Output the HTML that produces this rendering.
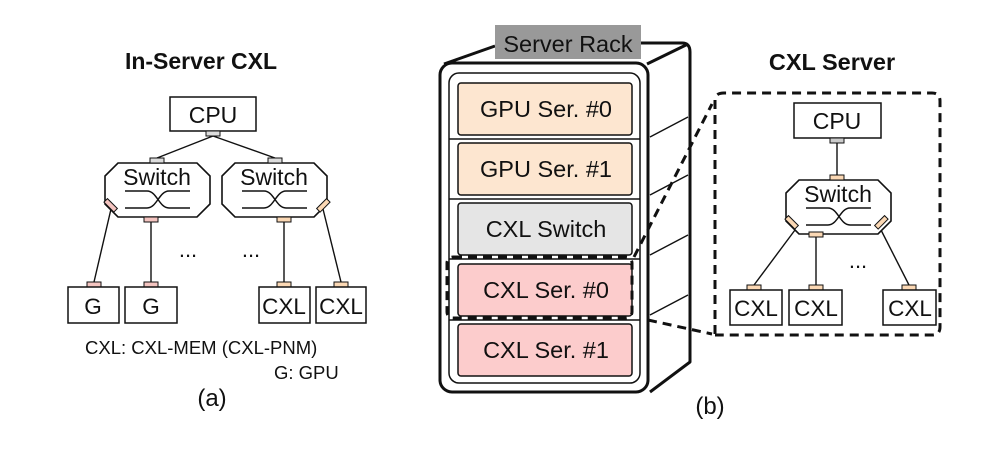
<!DOCTYPE html>
<html><head><meta charset="utf-8"><style>
html,body{margin:0;padding:0;background:#fff;width:997px;height:453px;overflow:hidden}
text{font-family:"Liberation Sans",Arial,sans-serif;fill:#111}
</style></head><body>
<svg width="997" height="453" viewBox="0 0 997 453" xmlns="http://www.w3.org/2000/svg">
<defs>
<g id="sw">
<polygon points="13,0 92,0 105,13 105,41 92,54 13,54 0,41 0,13" fill="#fff" stroke="#111" stroke-width="1.6"/>
<text x="52" y="22" font-size="23" text-anchor="middle">Switch</text>
<path d="M20 28 H42 C52 28 54 45 64 45 H85 M20 45 H42 C52 45 54 28 64 28 H85" fill="none" stroke="#111" stroke-width="1.5"/>
</g>
</defs>

<!-- (a) In-Server CXL -->
<text x="201" y="69" font-size="23" font-weight="bold" text-anchor="middle">In-Server CXL</text>
<rect x="170" y="97" width="86" height="34" fill="#fff" stroke="#111" stroke-width="1.5"/>
<text x="213" y="123" font-size="23" text-anchor="middle">CPU</text>
<g stroke="#111" stroke-width="1.4">
<line x1="213" y1="136" x2="157" y2="158"/>
<line x1="213" y1="136" x2="275" y2="158"/>
<line x1="111" y1="209" x2="94" y2="282"/>
<line x1="151" y1="222" x2="151" y2="282"/>
<line x1="284" y1="222" x2="284" y2="282"/>
<line x1="323" y1="209" x2="341" y2="282"/>
</g>
<use href="#sw" x="105" y="163"/>
<use href="#sw" x="222" y="163"/>
<g stroke="#111" stroke-width="1">
<rect x="206" y="131" width="14" height="5" fill="#ddd"/>
<rect x="150" y="158" width="14" height="5" fill="#ddd"/>
<rect x="268" y="158" width="14" height="5" fill="#ddd"/>
<rect x="144" y="217" width="14" height="5" fill="#f4c4c0"/>
<rect x="104" y="203" width="14" height="5" fill="#f4c4c0" transform="rotate(45 111 205)"/>
<rect x="277" y="217" width="14" height="5" fill="#fbd8b4"/>
<rect x="316" y="203" width="14" height="5" fill="#fbd8b4" transform="rotate(-45 323 205)"/>
<rect x="87" y="282" width="14" height="5" fill="#f4c4c0"/>
<rect x="144" y="282" width="14" height="5" fill="#f4c4c0"/>
<rect x="277" y="282" width="14" height="5" fill="#fbd8b4"/>
<rect x="334" y="282" width="14" height="5" fill="#fbd8b4"/>
</g>
<g fill="#fff" stroke="#111" stroke-width="1.5">
<rect x="68" y="287" width="51" height="36"/>
<rect x="125" y="287" width="52" height="36"/>
<rect x="259" y="287" width="51" height="36"/>
<rect x="316" y="287" width="50" height="36"/>
</g>
<g font-size="22.5" text-anchor="middle">
<text x="93" y="314">G</text><text x="151" y="314">G</text>
<text x="284" y="314">CXL</text><text x="341" y="314">CXL</text>
</g>
<text x="188" y="257" font-size="22" text-anchor="middle">...</text>
<text x="251" y="257" font-size="22" text-anchor="middle">...</text>
<text x="85" y="354" font-size="18.5">CXL: CXL-MEM (CXL-PNM)</text>
<text x="274" y="379" font-size="18.5">G: GPU</text>
<text x="212" y="406" font-size="24" text-anchor="middle">(a)</text>

<!-- (b) rack -->
<g fill="none" stroke="#111" stroke-width="3" stroke-linejoin="round">
<path d="M444 64 L495 46"/>
<path d="M641 43 H682 Q690 43 690 52 V362 L650 392"/>
<path d="M647 64 L688 44"/>
<rect x="440" y="63" width="208" height="329" rx="12"/>
</g>
<rect x="449" y="73" width="191" height="310" rx="10" fill="#fff" stroke="#111" stroke-width="1.5"/>
<g stroke="#111" stroke-width="1.4">
<line x1="650" y1="137" x2="688" y2="117"/>
<line x1="650" y1="195" x2="688" y2="175"/>
<line x1="650" y1="255" x2="688" y2="235"/>
<line x1="650" y1="315" x2="688" y2="295"/>
<line x1="449" y1="139" x2="640" y2="139"/>
<line x1="449" y1="199" x2="640" y2="199"/>
<line x1="449" y1="259" x2="640" y2="259"/>
<line x1="449" y1="320" x2="640" y2="320"/>
</g>
<rect x="495" y="25" width="146" height="34" fill="#999"/>
<text x="568" y="52" font-size="23.5" text-anchor="middle">Server Rack</text>
<g stroke="#111" stroke-width="1.5">
<rect x="458" y="83" width="174" height="52" rx="3" fill="#fde6d0"/>
<rect x="458" y="143" width="174" height="52" rx="3" fill="#fde6d0"/>
<rect x="458" y="203" width="174" height="52" rx="3" fill="#e5e5e5"/>
<rect x="458" y="264" width="174" height="52" rx="3" fill="#fccccc"/>
<rect x="458" y="324" width="174" height="52" rx="3" fill="#fccccc"/>
</g>
<g font-size="23.5" text-anchor="middle">
<text x="546" y="117">GPU Ser. #0</text>
<text x="546" y="177">GPU Ser. #1</text>
<text x="546" y="237">CXL Switch</text>
<text x="546" y="298">CXL Ser. #0</text>
<text x="546" y="358">CXL Ser. #1</text>
</g>
<g fill="none" stroke="#111" stroke-width="3" stroke-dasharray="9,6">
<rect x="447" y="257" width="185" height="61" rx="6"/>
<path d="M634 257 L712 104"/>
<path d="M648 320 L712 334"/>
<path d="M715 334 V100 Q715 93 724 93 H932 Q940 93 940 101 V327 Q940 335 932 335 H715"/>
</g>
<text x="832" y="70" font-size="23.5" font-weight="bold" text-anchor="middle">CXL Server</text>
<rect x="794" y="103" width="87" height="35" fill="#fff" stroke="#111" stroke-width="1.5"/>
<text x="837" y="129" font-size="23" text-anchor="middle">CPU</text>
<g stroke="#111" stroke-width="1.4">
<line x1="837" y1="143" x2="837" y2="175"/>
<line x1="795" y1="230" x2="754" y2="285"/>
<line x1="816" y1="237" x2="816" y2="285"/>
<line x1="881" y1="230" x2="909" y2="285"/>
</g>
<use href="#sw" x="786" y="180"/>
<g stroke="#111" stroke-width="1">
<rect x="830" y="138" width="14" height="5" fill="#ccc"/>
<rect x="830" y="175" width="14" height="5" fill="#fbd8b4"/>
<rect x="809" y="232" width="14" height="5" fill="#fbd8b4"/>
<rect x="785" y="220" width="14" height="5" fill="#fbd8b4" transform="rotate(45 792 222)"/>
<rect x="874" y="220" width="14" height="5" fill="#fbd8b4" transform="rotate(-45 881 222)"/>
<rect x="747" y="285" width="14" height="5" fill="#fbd8b4"/>
<rect x="809" y="285" width="14" height="5" fill="#fbd8b4"/>
<rect x="902" y="285" width="14" height="5" fill="#fbd8b4"/>
</g>
<g fill="#fff" stroke="#111" stroke-width="1.5">
<rect x="730" y="290" width="52" height="35"/>
<rect x="789" y="290" width="53" height="35"/>
<rect x="883" y="290" width="53" height="35"/>
</g>
<g font-size="22.5" text-anchor="middle">
<text x="756" y="316">CXL</text><text x="816" y="316">CXL</text><text x="910" y="316">CXL</text>
</g>
<text x="858" y="268" font-size="22" text-anchor="middle">...</text>
<text x="710" y="414" font-size="24" text-anchor="middle">(b)</text>
</svg>
</body></html>
